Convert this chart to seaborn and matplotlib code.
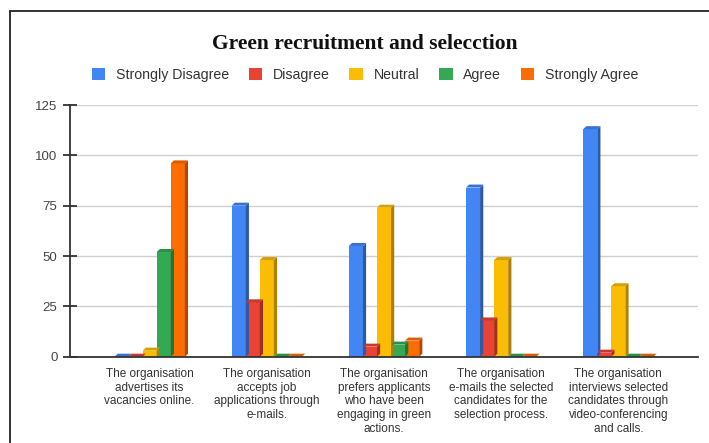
import numpy as np
import pandas as pd
import matplotlib
matplotlib.use("Agg")
import matplotlib.pyplot as plt
import seaborn as sns
from matplotlib.patches import Polygon, Patch
from matplotlib.lines import Line2D
import matplotlib.colors as mcolors

categories = [
    "The organisation\nadvertises its\nvacancies online.",
    "The organisation\naccepts job\napplications through\ne-mails.",
    "The organisation\nprefers applicants\nwho have been\nengaging in green\nactions.",
    "The organisation\ne-mails the selected\ncandidates for the\nselection process.",
    "The organisation\ninterviews selected\ncandidates through\nvideo-conferencing\nand calls.",
]
series_names = ["Strongly Disagree", "Disagree", "Neutral", "Agree", "Strongly Agree"]
strongly_disagree = [0, 75, 55, 84, 113]
disagree = [0, 27, 5, 18, 2]
neutral = [3, 48, 74, 48, 35]
agree = [52, 0, 6, 0, 0]
strongly_agree = [96, 0, 8, 0, 0]
colors = ["#4285F4", "#EA4335", "#FBBC04", "#34A853", "#FF6D01"]
yticks = [0, 25, 50, 75, 100, 125]

series_values = [strongly_disagree, disagree, neutral, agree, strongly_agree]
rows = []
for name, vals in zip(series_names, series_values):
    for cat, v in zip(categories, vals):
        rows.append({"category": cat, "response": name, "value": v})
df = pd.DataFrame(rows)

sns.set_theme(style="white")
plt.rcParams["font.family"] = ["Liberation Sans", "DejaVu Sans"]

fig = plt.figure(figsize=(7.09, 4.43), dpi=100)
ax = fig.add_axes([70 / 709, 1 - 356.7 / 443, (698 - 70) / 709, (356.7 - 105) / 443])

sns.barplot(data=df, x="category", y="value", hue="response", order=categories,
            hue_order=series_names, palette=colors, width=0.6, saturation=1,
            ax=ax, legend=False, edgecolor="none", linewidth=0)

ax.set_xlim(-0.68, 4.68)
ax.set_ylim(0, 125)

# pseudo-3D faces derived from each bar
dx = 3.2 / 117.0
dy = 3.0 / 2.014
for p in list(ax.patches):
    x0, w, h = p.get_x(), p.get_width(), p.get_height()
    c = np.array(mcolors.to_rgb(p.get_facecolor()))
    side = Polygon([(x0 + w, 0), (x0 + w + dx, dy), (x0 + w + dx, h + dy), (x0 + w, h)],
                   closed=True, facecolor=c * 0.68, edgecolor="none", zorder=p.get_zorder(),
                   clip_on=False)
    top = Polygon([(x0, h), (x0 + dx, h + dy), (x0 + w + dx, h + dy), (x0 + w, h)],
                  closed=True, facecolor=c * 0.85, edgecolor="none", zorder=p.get_zorder(),
                  clip_on=False)
    ax.add_patch(side)
    ax.add_patch(top)

ax.set_yticks(yticks)
ax.set_yticklabels([str(t) for t in yticks])
ax.grid(axis="y", color="#d0d0d0", linewidth=1)
ax.grid(axis="x", visible=False)
ax.set_axisbelow(True)
for s in ["top", "right"]:
    ax.spines[s].set_visible(False)
ax.spines["left"].set_color("#333333")
ax.spines["left"].set_linewidth(1.3)
ax.spines["bottom"].set_color("#333333")
ax.spines["bottom"].set_linewidth(1.3)
ax.tick_params(axis="y", direction="inout", length=10, width=1.3, color="#333333",
               labelsize=9.5, labelcolor="#444444", pad=4, left=True)
ax.tick_params(axis="x", length=0, labelsize=8.5, labelcolor="#333333", pad=8)
for lab in ax.get_xticklabels():
    lab.set_linespacing(1.2)
ax.set_xlabel("")
ax.set_ylabel("")

fig.text(365 / 709, 1 - 44 / 443, "Green recruitment and selecction", ha="center", va="center",
         fontsize=15.5, fontweight="bold", family=["Liberation Serif", "DejaVu Serif"], color="#111111")

handles = [Patch(facecolor=c, edgecolor="none") for c in colors]
fig.legend(handles, series_names, loc="center", bbox_to_anchor=(365 / 709, 1 - 75 / 443),
           ncol=5, frameon=False, fontsize=10.2, labelcolor="#333333", handlelength=0.95,
           handleheight=0.95, handletextpad=0.75, columnspacing=1.4, borderaxespad=0)

# outer frame (top and left edges visible)
fig.add_artist(Line2D([10 / 709, 1], [1 - 11 / 443, 1 - 11 / 443], color="#222222",
                      linewidth=1.3, transform=fig.transFigure))
fig.add_artist(Line2D([10 / 709, 10 / 709], [0, 1 - 11 / 443], color="#222222",
                      linewidth=1.3, transform=fig.transFigure))

fig.savefig("out.png", dpi=100)
